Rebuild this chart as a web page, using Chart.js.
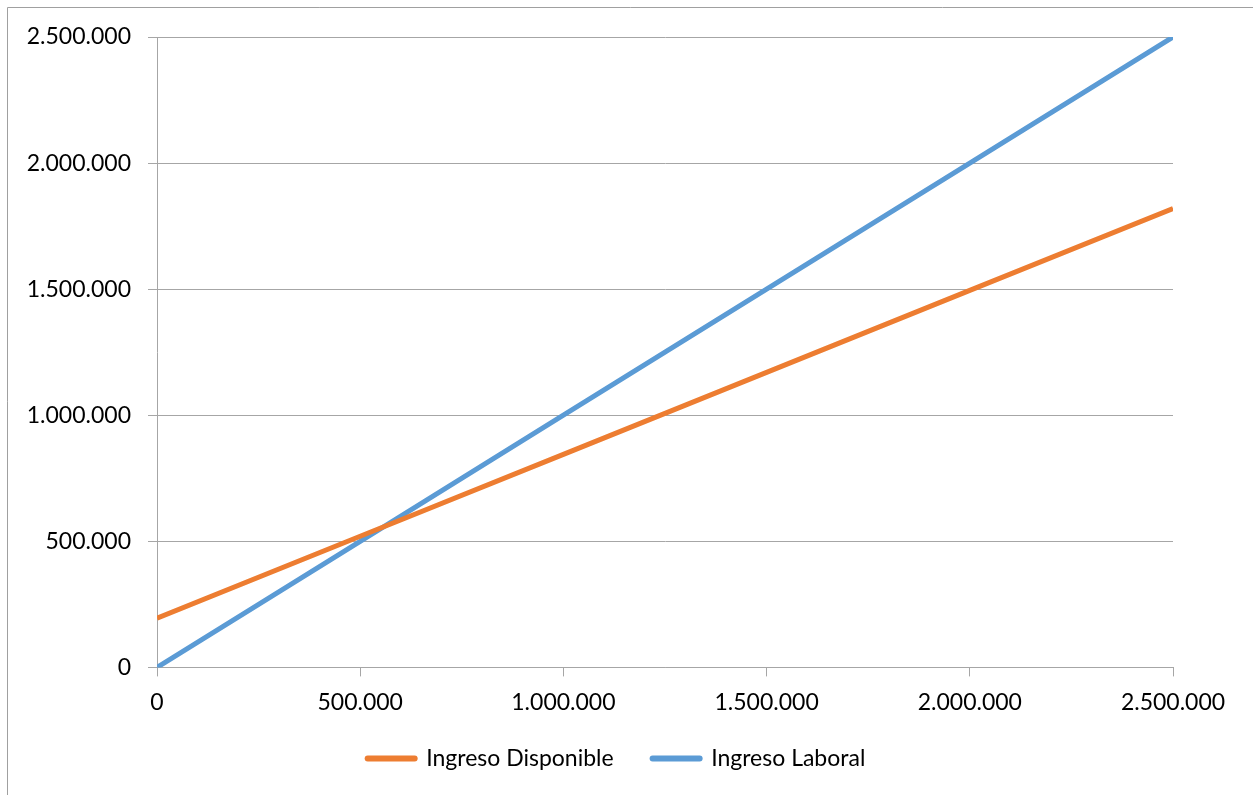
<!DOCTYPE html>
<html>
<head>
<meta charset="utf-8">
<script src="https://cdn.jsdelivr.net/npm/chart.js@4/dist/chart.umd.min.js"></script>
<style>
  html, body { margin: 0; padding: 0; background: #fff; overflow: hidden; }
  #wrap { position: absolute; left: 0; top: 0; width: 1253px; height: 795px; }
</style>
</head>
<body>
<div id="wrap"><canvas id="c" width="1253" height="795"></canvas></div>
<script>
// Ingreso laboral (x) vs. ingresos resultantes
const ingresoLaboralX = [0, 500000, 1000000, 1500000, 2000000, 2500000];
const ingresoDisponible = [195000, 520000, 845000, 1170000, 1495000, 1820000];
const ingresoLaboral = [0, 500000, 1000000, 1500000, 2000000, 2500000];
const tickValues = [0, 500000, 1000000, 1500000, 2000000, 2500000];
const tickLabels = ['0', '500.000', '1.000.000', '1.500.000', '2.000.000', '2.500.000'];
const seriesNames = ['Ingreso Disponible', 'Ingreso Laboral'];

const ORANGE = '#ED7D31';
const BLUE = '#5B9BD5';
const GRID = '#a6a6a6';
const FONT = { family: 'Lato, "Open Sans", sans-serif', size: 23 };

const toPoints = (ys) => ingresoLaboralX.map((x, i) => ({ x, y: ys[i] }));
const labelFor = (v) => {
  const i = tickValues.indexOf(v);
  return i >= 0 ? tickLabels[i] : '';
};

// Thin frame around the chart object
const framePlugin = {
  id: 'frame',
  beforeDraw(chart) {
    const ctx = chart.ctx;
    ctx.save();
    ctx.strokeStyle = '#a0a0a0';
    ctx.lineWidth = 1;
    ctx.beginPath();
    ctx.moveTo(7.5, chart.height + 2);
    ctx.lineTo(7.5, 7.5);
    ctx.lineTo(chart.width + 2, 7.5);
    ctx.stroke();
    ctx.restore();
  }
};

// Centre the legend under the whole chart object rather than the padded box
const legendShift = {
  id: 'legendShift',
  afterLayout(chart) {
    if (chart.legend) {
      chart.legend.left += 30;
      chart.legend.right += 30;
    }
  }
};

new Chart(document.getElementById('c'), {
  type: 'line',
  data: {
    datasets: [
      {
        label: seriesNames[0],
        data: toPoints(ingresoDisponible),
        borderColor: ORANGE,
        backgroundColor: ORANGE,
        borderWidth: 5,
        pointRadius: 0,
        tension: 0,
        fill: false
      },
      {
        label: seriesNames[1],
        data: toPoints(ingresoLaboral),
        borderColor: BLUE,
        backgroundColor: BLUE,
        borderWidth: 5,
        pointRadius: 0,
        tension: 0,
        fill: false
      }
    ]
  },
  options: {
    responsive: false,
    animation: false,
    devicePixelRatio: 1,
    layout: { padding: { left: 0, right: 80, top: 37, bottom: 15 } },
    plugins: {
      tooltip: { enabled: false },
      legend: {
        position: 'bottom',
        labels: {
          font: FONT,
          color: '#000',
          usePointStyle: true,
          pointStyle: 'line',
          pointStyleWidth: 47,
          padding: 39,
          generateLabels(chart) {
            return chart.data.datasets.map((ds, i) => ({
              text: ds.label,
              fillStyle: ds.borderColor,
              strokeStyle: ds.borderColor,
              lineWidth: 6,
              lineCap: 'round',
              pointStyle: 'line',
              hidden: false,
              datasetIndex: i
            }));
          }
        }
      }
    },
    scales: {
      x: {
        type: 'linear',
        min: 0,
        max: 2500000,
        afterBuildTicks(scale) { scale.ticks = tickValues.map(v => ({ value: v })); },
        afterFit(scale) {
          scale.height -= 20;
          // let the tick labels draw past the shortened axis box
          scale._computeLabelArea = () => undefined;
        },
        ticks: {
          font: FONT,
          color: '#000',
          padding: 12,
          maxRotation: 0,
          autoSkip: false,
          callback: (v) => labelFor(v)
        },
        grid: {
          drawOnChartArea: false,
          drawTicks: true,
          tickLength: 9,
          color: GRID,
          lineWidth: 1
        },
        border: { display: true, color: GRID, width: 1 }
      },
      y: {
        type: 'linear',
        min: 0,
        max: 2500000,
        afterBuildTicks(scale) { scale.ticks = tickValues.map(v => ({ value: v })); },
        afterFit(scale) { scale.width = 157; },
        ticks: {
          font: FONT,
          color: '#000',
          padding: 17,
          autoSkip: false,
          callback: (v) => labelFor(v)
        },
        grid: {
          drawOnChartArea: true,
          drawTicks: true,
          tickLength: 9,
          color: GRID,
          lineWidth: 1
        },
        border: { display: true, color: GRID, width: 1 }
      }
    }
  },
  plugins: [framePlugin, legendShift]
});
</script>
</body>
</html>
